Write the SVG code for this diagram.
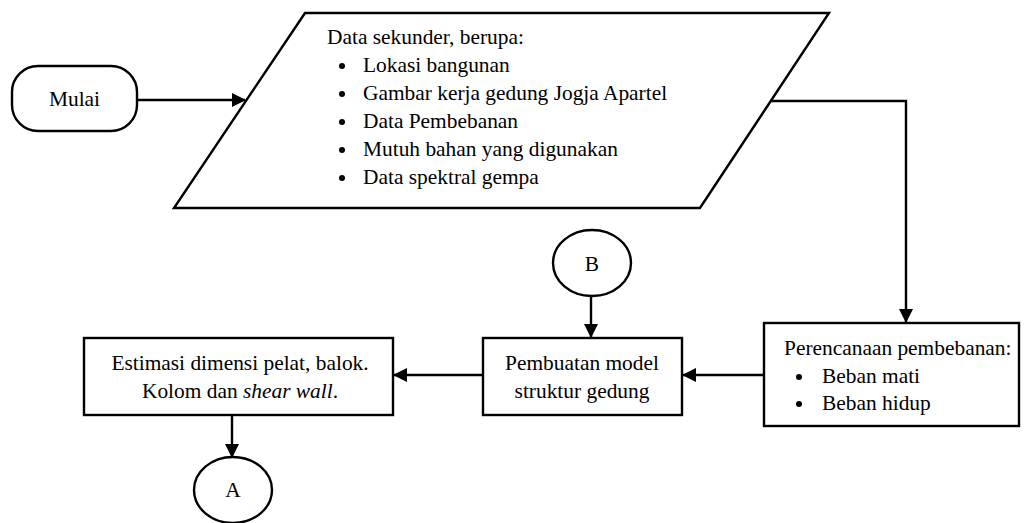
<svg xmlns="http://www.w3.org/2000/svg" width="1024" height="523" viewBox="0 0 1024 523">
<defs>
<style>
.s{fill:#fff;stroke:#000;stroke-width:2.4}
.t{font-size:21.4px;fill:#000}
.c{fill:none;stroke:#000;stroke-width:2.4}
</style>
<marker id="ah" markerWidth="14" markerHeight="14" refX="13" refY="7" orient="auto" markerUnits="userSpaceOnUse">
<path d="M0,0 L14,7 L0,14 Z" fill="#000"/>
</marker>
</defs>
<rect width="1024" height="523" fill="#fff"/>
<g id="connectors">
<line class="c" x1="137" y1="100" x2="245" y2="100" marker-end="url(#ah)"/>
<polyline class="c" points="771,101 906,101 906,322" marker-end="url(#ah)"/>
<line class="c" x1="591" y1="297" x2="591" y2="337" marker-end="url(#ah)"/>
<line class="c" x1="763" y1="375" x2="683" y2="375" marker-end="url(#ah)"/>
<line class="c" x1="483" y1="375" x2="394" y2="375" marker-end="url(#ah)"/>
<line class="c" x1="232" y1="415" x2="232" y2="457" marker-end="url(#ah)"/>
</g>
<g font-family="'Liberation Serif', 'Times New Roman', 'DejaVu Serif', serif">
<g id="mulai">
<rect class="s" x="12" y="66" width="125" height="65" rx="26" ry="26"/>
<text class="t" x="74.5" y="106" text-anchor="middle">Mulai</text>
</g>
<g id="data">
<polygon class="s" points="305,13 829,13 700,208 174,208"/>
<text class="t" x="327" y="44">Data sekunder, berupa:</text>
<circle cx="342" cy="66" r="3"/>
<circle cx="342" cy="94" r="3"/>
<circle cx="342" cy="122" r="3"/>
<circle cx="342" cy="150" r="3"/>
<circle cx="342" cy="178" r="3"/>
<text class="t" x="363" y="72">Lokasi bangunan</text>
<text class="t" x="363" y="100">Gambar kerja gedung Jogja Apartel</text>
<text class="t" x="363" y="128">Data Pembebanan</text>
<text class="t" x="363" y="156">Mutuh bahan yang digunakan</text>
<text class="t" x="363" y="184">Data spektral gempa</text>
</g>
<g id="perencanaan">
<rect class="s" x="764" y="323" width="255" height="103"/>
<text class="t" x="784" y="355">Perencanaan pembebanan:</text>
<circle cx="799" cy="377" r="3"/>
<circle cx="799" cy="404" r="3"/>
<text class="t" x="822" y="383">Beban mati</text>
<text class="t" x="822" y="410">Beban hidup</text>
</g>
<g id="b">
<ellipse class="s" cx="592" cy="263" rx="39" ry="33"/>
<text class="t" x="592" y="271" text-anchor="middle">B</text>
</g>
<g id="pembuatan">
<rect class="s" x="483" y="338" width="199" height="77"/>
<text class="t" x="582" y="370" text-anchor="middle">Pembuatan model</text>
<text class="t" x="582" y="398" text-anchor="middle">struktur gedung</text>
</g>
<g id="estimasi">
<rect class="s" x="84" y="338" width="309" height="77"/>
<text class="t" x="240" y="370" text-anchor="middle">Estimasi dimensi pelat, balok.</text>
<text class="t" x="240" y="398" text-anchor="middle">Kolom dan <tspan font-style="italic">shear wall</tspan>.</text>
</g>
<g id="a">
<ellipse class="s" cx="233" cy="490" rx="39" ry="33"/>
<text class="t" x="233" y="497" text-anchor="middle">A</text>
</g>
</g>
</svg>
